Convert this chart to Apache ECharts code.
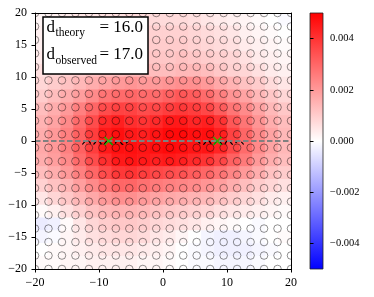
<!DOCTYPE html>
<html><head><meta charset="utf-8">
<script src="https://cdn.jsdelivr.net/npm/echarts@6/dist/echarts.min.js"></script>
<style>html,body{margin:0;padding:0;background:#fff}#c{width:374px;height:297px}</style>
</head><body><div id="c"></div>
<script>
// ---- data ----
const cellX = [-19,-17,-15,-13,-11,-9,-7,-5,-3,-1,1,3,5,7,9,11,13,15,17,19];
const cellY = [19,17,15,13,11,9,7,5,3,1,-1,-3,-5,-7,-9,-11,-13,-15,-17,-19];
// field values in units of 1e-3, rows follow cellY (top to bottom)
const fieldE3 = [
 [0.2,0.3,0.4,0.5,0.5,0.6,0.6,0.7,0.7,0.7,0.7,0.7,0.6,0.5,0.4,0.3,0.2,0.1,0.0,-0.1],
 [0.3,0.4,0.5,0.6,0.7,0.7,0.8,0.8,0.9,0.9,0.9,0.9,0.8,0.7,0.6,0.5,0.3,0.2,0.1,0.0],
 [0.3,0.5,0.6,0.7,0.8,0.9,0.9,1.0,1.0,1.0,1.0,1.0,0.9,0.8,0.7,0.6,0.4,0.3,0.2,0.1],
 [0.4,0.6,0.7,0.8,0.9,1.0,1.1,1.1,1.1,1.1,1.1,1.2,1.1,1.0,0.9,0.8,0.6,0.4,0.3,0.2],
 [0.6,0.8,0.9,1.0,1.2,1.3,1.3,1.4,1.4,1.3,1.3,1.4,1.4,1.3,1.1,0.9,0.8,0.6,0.4,0.3],
 [0.8,1.0,1.2,1.4,1.6,1.8,2.0,2.1,2.0,2.0,2.1,2.2,2.2,2.0,1.7,1.5,1.2,1.0,0.7,0.5],
 [1.0,1.3,1.6,1.9,2.3,2.7,2.9,3.0,2.9,2.9,3.1,3.3,3.2,2.9,2.5,2.1,1.8,1.4,1.1,0.8],
 [1.3,1.6,2.0,2.5,3.0,3.5,3.7,3.7,3.5,3.6,3.8,3.9,3.8,3.6,3.2,2.7,2.3,1.8,1.4,1.1],
 [1.5,1.8,2.3,2.9,3.5,4.2,4.4,4.1,4.0,4.2,4.5,4.5,4.3,4.4,4.0,3.3,2.7,2.1,1.6,1.3],
 [1.6,2.0,2.5,3.1,3.8,4.5,4.7,4.5,4.4,4.6,4.8,4.8,4.7,4.7,4.4,3.7,3.0,2.3,1.8,1.4],
 [1.7,2.0,2.5,3.1,3.8,4.5,4.7,4.7,4.6,4.7,4.8,4.7,4.6,4.6,4.3,3.6,2.9,2.3,1.8,1.4],
 [1.6,1.9,2.3,2.9,3.5,4.1,4.5,4.6,4.5,4.4,4.5,4.4,4.2,4.0,3.6,3.1,2.6,2.0,1.6,1.3],
 [1.3,1.6,2.0,2.5,3.0,3.5,3.9,4.0,3.8,3.6,3.5,3.4,3.2,3.0,2.7,2.4,2.0,1.6,1.2,1.0],
 [0.9,1.2,1.5,1.9,2.3,2.7,3.0,3.0,2.8,2.6,2.5,2.4,2.3,2.1,1.9,1.6,1.3,1.0,0.8,0.6],
 [0.5,0.8,1.1,1.4,1.7,2.0,2.2,2.2,2.0,1.8,1.7,1.6,1.5,1.4,1.2,1.0,0.8,0.6,0.4,0.3],
 [0.1,0.3,0.6,0.9,1.2,1.4,1.5,1.5,1.4,1.2,1.1,1.0,0.9,0.8,0.6,0.5,0.4,0.3,0.2,0.1],
 [-0.4,-0.3,0.1,0.5,0.8,1.0,1.1,1.1,1.0,0.8,0.7,0.6,0.5,0.3,0.2,0.1,0.0,-0.1,0.0,0.0],
 [-0.2,-0.1,0.2,0.4,0.6,0.7,0.8,0.8,0.7,0.5,0.4,0.2,0.0,-0.2,-0.3,-0.3,-0.2,-0.1,0.0,0.1],
 [0.0,0.1,0.2,0.3,0.4,0.5,0.5,0.5,0.4,0.3,0.2,0.0,-0.1,-0.2,-0.3,-0.3,-0.3,-0.2,-0.1,0.0],
 [0.1,0.1,0.2,0.2,0.3,0.3,0.3,0.3,0.2,0.2,0.1,0.0,-0.1,-0.1,-0.2,-0.2,-0.2,-0.1,0.0,0.0]
];
const circleCoords = [-20,-17.895,-15.789,-13.684,-11.579,-9.474,-7.368,-5.263,-3.158,-1.053,
                      1.053,3.158,5.263,7.368,9.474,11.579,13.684,15.789,17.895,20];
const waveLeftX  = [-12.6,-11.8,-11.0,-10.2,-9.4,-8.6,-7.8,-7.0,-6.2,-5.4];
const waveLeftY  = [-0.55,0.05,-0.55,0.05,-0.55,0.05,-0.55,0.05,-0.55,0.05];
const waveRightX = [5.4,6.2,7.0,7.8,8.6,9.4,10.2,11.0,11.8,12.6];
const waveRightY = [0.05,-0.55,0.05,-0.55,0.05,-0.55,0.05,-0.55,0.05,-0.55];
const markerX = [-8.5, 8.5];
const markerY = [0, 0];
const zeroLineX = [-20, 20];
const cbarRange = [-0.005, 0.005];
const cbarTicks = [-0.004,-0.002,0.000,0.002,0.004];
const dTheory = '16.0', dObserved = '17.0';

// ---- build ----
const heatData = [];
cellY.forEach((y, r) => cellX.forEach((x, c) => heatData.push([x, y, fieldE3[r][c] * 1e-3])));
const circleData = [];
circleCoords.forEach(y => circleCoords.forEach(x => circleData.push([x, y])));
const fmt = v => String(v).replace('-', '\u2212');
const serif = 'Liberation Serif';

const chart = echarts.init(document.getElementById('c'), null, {renderer: 'canvas'});
const G = {left: 35, top: 13, width: 256, height: 256};
chart.setOption({
  animation: false,
  grid: [
    {left: G.left, top: G.top, width: G.width, height: G.height},
    {left: 310, top: G.top, width: 13, height: G.height}
  ],
  xAxis: [
    {gridIndex: 0, type: 'value', min: -20, max: 20, interval: 10, z: 10,
     axisLine: {show: true, onZero: false, lineStyle: {color: '#000', width: 1}},
     axisTick: {show: true, inside: false, length: 3.5, lineStyle: {color: '#000'}},
     axisLabel: {margin: 8, color: '#000', fontFamily: serif, fontSize: 12, formatter: fmt},
     splitLine: {show: false}},
    {gridIndex: 0, type: 'value', position: 'top', min: -20, max: 20, z: 10,
     axisLine: {show: true, onZero: false, lineStyle: {color: '#000', width: 1}},
     axisTick: {show: false}, axisLabel: {show: false}, splitLine: {show: false}},
    {gridIndex: 1, type: 'value', min: 0, max: 1, show: false}
  ],
  yAxis: [
    {gridIndex: 0, type: 'value', min: -20, max: 20, interval: 5, z: 10,
     axisLine: {show: true, onZero: false, lineStyle: {color: '#000', width: 1}},
     axisTick: {show: true, inside: false, length: 3.5, lineStyle: {color: '#000'}},
     axisLabel: {margin: 8, color: '#000', fontFamily: serif, fontSize: 12, formatter: fmt},
     splitLine: {show: false}},
    {gridIndex: 0, type: 'value', position: 'right', min: -20, max: 20, z: 10,
     axisLine: {show: true, onZero: false, lineStyle: {color: '#000', width: 1}},
     axisTick: {show: false}, axisLabel: {show: false}, splitLine: {show: false}},
    {gridIndex: 1, type: 'value', position: 'right', min: cbarRange[0], max: cbarRange[1], z: 10,
     axisLine: {show: false},
     axisTick: {show: true, length: 3.5, customValues: cbarTicks, lineStyle: {color: '#000'}},
     axisLabel: {margin: 7, color: '#000', fontFamily: serif, fontSize: 10.5, customValues: cbarTicks,
                 formatter: v => fmt(v.toFixed(3))},
     splitLine: {show: false}}
  ],
  visualMap: {
    show: false, type: 'continuous', seriesIndex: 0, dimension: 2,
    min: cbarRange[0], max: cbarRange[1],
    inRange: {color: ['#0000ff', '#ffffff', '#ff0000']}
  },
  series: [
    {
      type: 'custom', xAxisIndex: 0, yAxisIndex: 0, clip: true, z: 1,
      data: heatData,
      renderItem: (params, api) => {
        const p = api.coord([api.value(0) - 1, api.value(1) + 1]);
        const s = api.size([2, 2]);
        return {type: 'rect', shape: {x: p[0] - 0.3, y: p[1] - 0.3, width: s[0] + 0.6, height: s[1] + 0.6},
                style: {fill: api.visual('color')}};
      }
    },
    {
      type: 'custom', xAxisIndex: 0, yAxisIndex: 0, clip: true, z: 3, silent: true,
      data: circleData,
      renderItem: (params, api) => {
        const p = api.coord([api.value(0), api.value(1)]);
        return {type: 'circle', shape: {cx: p[0], cy: p[1], r: 3.8},
                style: {fill: 'none', stroke: 'rgba(0,0,0,0.55)', lineWidth: 0.8}};
      }
    },
    {
      type: 'line', xAxisIndex: 0, yAxisIndex: 0, z: 4, smooth: true, symbol: 'none',
      data: waveLeftX.map((x, i) => [x, waveLeftY[i]]),
      lineStyle: {color: '#000', width: 1.2, type: [4, 3]}
    },
    {
      type: 'line', xAxisIndex: 0, yAxisIndex: 0, z: 4, smooth: true, symbol: 'none',
      data: waveRightX.map((x, i) => [x, waveRightY[i]]),
      lineStyle: {color: '#000', width: 1.2, type: [4, 3]}
    },
    {
      type: 'line', xAxisIndex: 0, yAxisIndex: 0, z: 5, symbol: 'none',
      data: zeroLineX.map(x => [x, 0]),
      lineStyle: {color: '#808080', width: 1.8, type: [5.5, 2.5]}
    },
    {
      type: 'scatter', xAxisIndex: 0, yAxisIndex: 0, z: 6,
      data: markerX.map((x, i) => [x, markerY[i]]),
      symbol: 'path://M0,0L10,10M10,0L0,10', symbolSize: 8,
      itemStyle: {color: 'rgba(0,0,0,0)', borderColor: '#00d000', borderWidth: 1.6}
    },
    {
      type: 'custom', xAxisIndex: 2, yAxisIndex: 2, z: 2,
      data: [cbarRange],
      renderItem: (params, api) => {
        const a = api.coord([0, cbarRange[1]]);
        const b = api.coord([1, cbarRange[0]]);
        return {type: 'rect', shape: {x: a[0], y: a[1], width: b[0] - a[0], height: b[1] - a[1]},
                style: {fill: new echarts.graphic.LinearGradient(0, 1, 0, 0, [
                          {offset: 0, color: '#0000ff'}, {offset: 0.5, color: '#ffffff'}, {offset: 1, color: '#ff0000'}]),
                        stroke: '#222', lineWidth: 0.8}};
      }
    }
  ],
  graphic: [
    {type: 'rect', z: 100, shape: {x: 43, y: 17, width: 105, height: 57},
     style: {fill: '#fff', stroke: '#000', lineWidth: 1.5}},
    {type: 'text', z: 101, x: 46.5, y: 27.5, style: {text: 'd', font: '17px "Liberation Serif"', fill: '#000', verticalAlign: 'middle'}},
    {type: 'text', z: 101, x: 55.5, y: 33, style: {text: 'theory', font: '11.5px "Liberation Serif"', fill: '#000', verticalAlign: 'middle'}},
    {type: 'text', z: 101, x: 143, y: 27.5, style: {text: '= ' + dTheory, font: '17px "Liberation Serif"', fill: '#000', align: 'right', verticalAlign: 'middle'}},
    {type: 'text', z: 101, x: 46.5, y: 54.5, style: {text: 'd', font: '17px "Liberation Serif"', fill: '#000', verticalAlign: 'middle'}},
    {type: 'text', z: 101, x: 55.5, y: 61, style: {text: 'observed', font: '11.5px "Liberation Serif"', fill: '#000', verticalAlign: 'middle'}},
    {type: 'text', z: 101, x: 143, y: 54.5, style: {text: '= ' + dObserved, font: '17px "Liberation Serif"', fill: '#000', align: 'right', verticalAlign: 'middle'}}
  ]
});
</script></body></html>
